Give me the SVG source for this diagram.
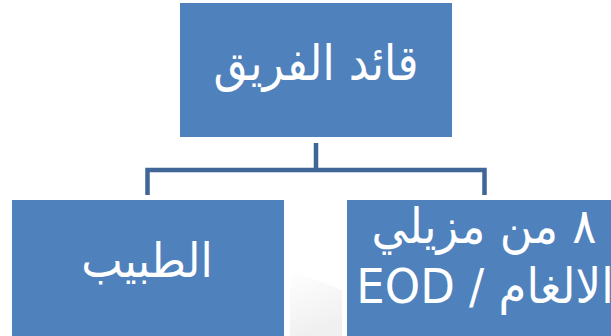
<svg xmlns="http://www.w3.org/2000/svg" width="611" height="336" viewBox="0 0 611 336">
  <defs>
    <linearGradient id="haze" x1="0" y1="0" x2="0.3" y2="1">
      <stop offset="0" stop-color="#ffffff"/>
      <stop offset="1" stop-color="#ececec"/>
    </linearGradient>
  </defs>
  <style>
    .box { fill: #4F81BD; }
    .label { fill: #ffffff; font-family: "DejaVu Sans", sans-serif; text-anchor: middle; }
    .link { fill: none; stroke: #3F6696; stroke-width: 4.5; }
  </style>
  <rect width="611" height="336" fill="#ffffff"/>
  <!-- faint backdrop between the lower boxes -->
  <polygon points="290,270 342,290 342,336 290,336" fill="url(#haze)" opacity="0.8"/>

  <g id="connectors">
    <path class="link" d="M316,143 V170 M147.5,195 V170 H484.5 V195"/>
  </g>

  <g id="team-leader">
    <rect class="box" x="180" y="3" width="272" height="134"/>
    <text class="label" transform="translate(316,80) scale(1,1.12)" font-size="44" direction="rtl">قائد الفريق</text>
  </g>

  <g id="doctor">
    <rect class="box" x="12" y="200" width="272" height="140"/>
    <text class="label" transform="translate(147,277) scale(1,1.08)" font-size="44" direction="rtl">الطبيب</text>
  </g>

  <g id="eod">
    <rect class="box" x="347" y="200" width="272" height="140"/>
    <text class="label" transform="translate(484,243) scale(1,1.08)" font-size="45" direction="rtl">٨ من مزيلي</text>
    <text class="label" transform="translate(485,303) scale(1,1.08)" font-size="45" direction="rtl">الالغام / EOD</text>
  </g>
</svg>
